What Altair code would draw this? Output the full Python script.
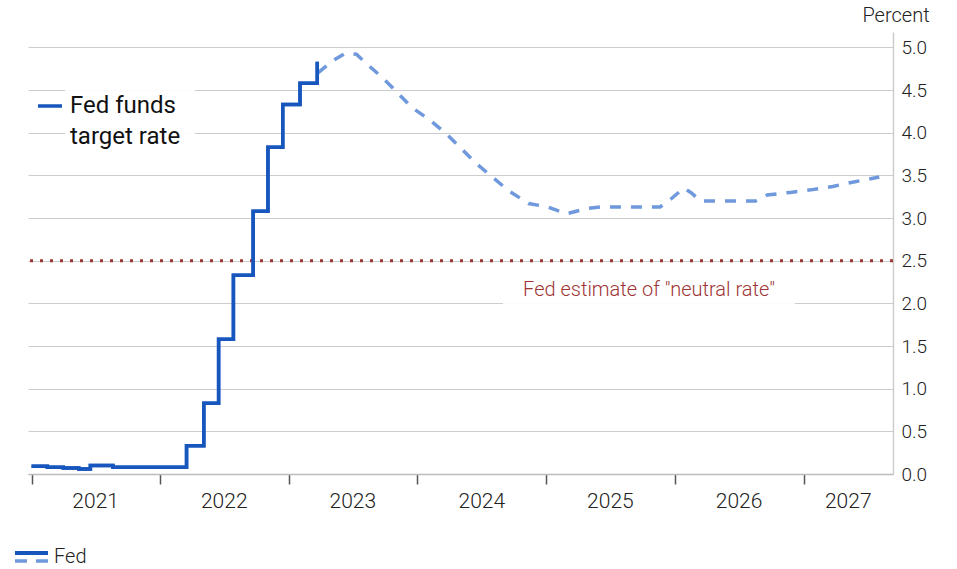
import altair as alt
import pandas as pd

# Fed funds target rate (effective, step changes)
actual_dates = [
    "2021-01-01", "2021-02-15", "2021-04-01", "2021-05-15", "2021-06-17",
    "2021-08-20", "2022-03-17", "2022-05-05", "2022-06-16", "2022-07-28",
    "2022-09-22", "2022-11-03", "2022-12-15", "2023-02-02", "2023-03-23",
]
actual_rates = [0.09, 0.08, 0.07, 0.06, 0.10, 0.08,
                0.33, 0.83, 1.58, 2.33, 3.08, 3.83, 4.33, 4.58, 4.83]

# Market-implied path of the policy rate
path_dates = [
    "2023-03-25", "2023-05-05", "2023-06-10", "2023-07-12", "2023-08-15",
    "2023-09-20", "2023-11-03", "2023-12-15", "2024-02-05", "2024-03-20",
    "2024-05-01", "2024-06-13", "2024-07-26", "2024-09-16", "2024-11-12",
    "2025-01-04", "2025-02-28", "2025-04-25", "2025-06-05", "2025-11-20",
    "2025-12-20", "2026-01-26", "2026-02-15", "2026-03-15", "2026-08-18",
    "2026-09-20", "2026-11-25", "2027-01-22", "2027-03-25", "2027-05-20",
    "2027-08-04",
]
path_rates = [4.70, 4.84, 4.93, 4.92, 4.79, 4.66, 4.48, 4.30, 4.15, 4.00,
              3.83, 3.65, 3.50, 3.32, 3.17, 3.13, 3.05, 3.11, 3.13, 3.13,
              3.22, 3.35, 3.30, 3.20, 3.20, 3.27, 3.30, 3.33, 3.37, 3.42,
              3.48]

neutral_rate = 2.5
neutral_label = 'Fed estimate of "neutral rate"'

year_labels = ["2021", "2022", "2023", "2024", "2025", "2026", "2027"]
year_label_dates = ["2021-07-02", "2022-07-02", "2023-07-02", "2024-07-02",
                    "2025-07-02", "2026-07-02", "2027-05-08"]
year_ticks = [2021, 2022, 2023, 2024, 2025, 2026, 2027]
y_ticks = [0, 0.5, 1.0, 1.5, 2.0, 2.5, 3.0, 3.5, 4.0, 4.5, 5.0]

W, H = 865, 442
FONT = "Roboto"
SOLID = "#1656bd"
DASHED = "#6f99dc"
NEUTRAL = "#9e3535"
TEXT = "#222222"


def local(d):
    return d + "T00:00:00"


actual = pd.DataFrame({"date": [local(d) for d in actual_dates], "rate": actual_rates})
path = pd.DataFrame({"date": [local(d) for d in path_dates], "rate": path_rates})
years = pd.DataFrame({"date": [local(d) for d in year_label_dates], "label": year_labels})
one = pd.DataFrame({"k": [0]})

x_scale = alt.Scale(domain=[alt.DateTime(year=2020, month=12, date=22),
                            alt.DateTime(year=2027, month=9, date=12)])
y_scale = alt.Scale(domain=[0, 5.18], nice=False)

x_axis = alt.Axis(
    values=[alt.DateTime(year=y, month=1, date=1) for y in year_ticks],
    labels=False, grid=False, title=None,
    tickColor="#555555", tickSize=10, tickWidth=1.5,
    domainColor="#bdbdbd", domainWidth=1.5,
)
y_axis = alt.Axis(
    orient="right", values=y_ticks, format=".1f", title=None,
    ticks=False, labelPadding=8, labelFont=FONT, labelFontSize=19,
    labelFontWeight=300, labelColor=TEXT, gridColor="#cdcdcd", gridWidth=1,
    domainColor="#cdcdcd", domainWidth=1.5,
)

X = alt.X("date:T", scale=x_scale, axis=x_axis)
Y = alt.Y("rate:Q", scale=y_scale, axis=y_axis)

solid = alt.Chart(actual).mark_line(
    interpolate="step-after", color=SOLID, strokeWidth=3.5
).encode(x=X, y=Y)

dashed = alt.Chart(path).mark_line(
    color=DASHED, strokeWidth=3.5, strokeDash=[11, 10]
).encode(x=X, y=Y)


def white_box(x0, x1, y0, y1):
    return alt.Chart(one).mark_rect(color="white", opacity=0.92).encode(
        x=alt.value(x0), x2=alt.value(x1), y=alt.value(y0), y2=alt.value(y1))


neutral = alt.Chart(one).mark_rule(
    color=NEUTRAL, strokeWidth=3, strokeDash=[3, 7]
).encode(y=alt.datum(neutral_rate, scale=y_scale, axis=y_axis))

neutral_text = alt.Chart(one).mark_text(
    text=neutral_label, font=FONT, fontSize=20, fontWeight=300, color=NEUTRAL,
    align="center", baseline="middle"
).encode(x=alt.value(621), y=alt.value(258))

year_text = alt.Chart(years).mark_text(
    font=FONT, fontSize=21, fontWeight=300, color=TEXT, align="center", baseline="middle"
).encode(x=X, y=alt.value(H + 28), text="label:N")

percent = alt.Chart(one).mark_text(
    text="Percent", font=FONT, fontSize=20, fontWeight=300, color=TEXT,
    align="center", baseline="middle"
).encode(x=alt.value(868), y=alt.value(-16))

# in-plot key for the solid series
key_line = alt.Chart(one).mark_rule(color=SOLID, strokeWidth=3.5).encode(
    x=alt.value(10), x2=alt.value(34), y=alt.value(74))
key_text1 = alt.Chart(one).mark_text(
    text="Fed funds", font=FONT, fontSize=24, color="#111111", align="left", baseline="middle"
).encode(x=alt.value(42), y=alt.value(74))
key_text2 = alt.Chart(one).mark_text(
    text="target rate", font=FONT, fontSize=24, color="#111111", align="left", baseline="middle"
).encode(x=alt.value(42), y=alt.value(105))

# bottom legend
leg_solid = alt.Chart(one).mark_rule(color=SOLID, strokeWidth=4).encode(
    x=alt.value(-13), x2=alt.value(20), y=alt.value(521))
leg_dash = alt.Chart(one).mark_rule(color=DASHED, strokeWidth=3.5, strokeDash=[12, 9]).encode(
    x=alt.value(-13), x2=alt.value(20), y=alt.value(529))
leg_text = alt.Chart(one).mark_text(
    text="Fed", font=FONT, fontSize=20, fontWeight=300, color=TEXT,
    align="left", baseline="middle"
).encode(x=alt.value(26), y=alt.value(525))

chart = alt.layer(
    solid,
    white_box(37, 167, 58, 122), white_box(475, 767, 245, 273),
    neutral, dashed, solid,
    neutral_text, year_text, percent, key_line, key_text1, key_text2,
    leg_solid, leg_dash, leg_text,
).properties(
    width=W, height=H,
    autosize=alt.AutoSizeParams(type="none"),
    padding={"left": 28, "top": 32, "right": 64, "bottom": 95},
    background="white",
).configure_view(stroke=None)

chart.save("out.html", embed_options={"renderer": "svg", "actions": False})
